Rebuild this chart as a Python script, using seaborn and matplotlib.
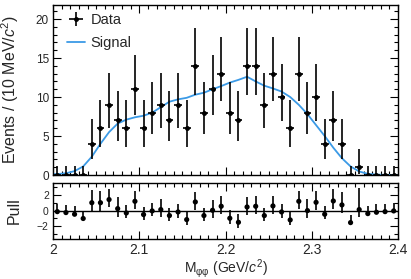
import math
import numpy as np
import pandas as pd
import matplotlib
matplotlib.use("Agg")
import matplotlib.pyplot as plt
from matplotlib.ticker import MultipleLocator
from matplotlib.lines import Line2D
import seaborn as sns

# bin centres (10 MeV bins from 2.0 to 2.4 GeV)
bin_centers = [round(2.005 + 0.01 * i, 3) for i in range(40)]

# observed counts per bin
counts = [0, 0, 0, 0, 4, 6, 9, 7, 6, 11,
          6, 8, 9, 7, 9, 6, 14, 8, 11, 13,
          8, 7, 14, 14, 9, 13, 10, 6, 13, 8,
          10, 4, 7, 4, 0, 1, 0, 0, 0, 0]

# signal shape
signal_x = [2.000, 2.005, 2.015, 2.025, 2.035, 2.045, 2.055, 2.065, 2.075, 2.085,
            2.095, 2.105, 2.115, 2.125, 2.135, 2.145, 2.155, 2.165, 2.175, 2.185,
            2.195, 2.205, 2.215, 2.225, 2.235, 2.245, 2.255, 2.265, 2.275, 2.285,
            2.295, 2.305, 2.315, 2.325, 2.335, 2.345, 2.355, 2.365, 2.375, 2.385,
            2.395, 2.400]
signal_y = [0.10, 0.12, 0.22, 0.50, 1.10, 2.35, 4.00, 5.50, 6.60, 7.10,
            7.40, 7.60, 8.00, 8.70, 9.40, 9.70, 9.90, 10.30, 10.55, 11.00,
            11.40, 11.85, 12.20, 12.60, 12.00, 11.45, 11.10, 10.70, 10.00, 9.00,
            7.80, 6.40, 5.00, 3.50, 2.15, 1.10, 0.45, 0.15, 0.05, 0.02,
            0.01, 0.01]

# pulls per bin
pulls = [-0.13, -0.25, -0.46, -1.00, 1.00, 1.00, 1.40, 0.25, -0.30, 1.18,
         -0.50, -0.04, 0.13, -0.63, -0.17, -1.14, 1.10, -0.63, 0.04, 0.55,
         -0.97, -1.48, 0.46, 0.55, -0.63, 0.59, -0.17, -1.18, 1.18, 0.00,
         1.05, -0.46, 1.22, 0.72, -1.52, 0.13, -0.38, -0.21, -0.13, -0.04]


def poisson_cdf(k, mu):
    return sum(math.exp(-mu) * mu ** i / math.factorial(i) for i in range(k + 1))


def solve_mu(k, target):
    # poisson_cdf is decreasing in mu -> bisection
    lo, hi = 0.0, 100.0
    for _ in range(80):
        mid = 0.5 * (lo + hi)
        if poisson_cdf(k, mid) > target:
            lo = mid
        else:
            hi = mid
    return 0.5 * (lo + hi)


def poisson_interval(n, cl=0.682689):
    # central interval, one-sided for n = 0 (as RooHist does)
    a = 0.5 * (1 - cl)
    if n == 0:
        return 0.0, -math.log(1 - cl)
    low = solve_mu(n - 1, 1 - a)
    up = solve_mu(n, a)
    return n - low, up - n


err_lo, err_hi = zip(*[poisson_interval(n) for n in counts])
err_lo, err_hi = np.array(err_lo), np.array(err_hi)

# pull error bars: the side facing the curve is 1 by construction
pull_up, pull_dn = [], []
for p, lo, hi in zip(pulls, err_lo, err_hi):
    if p >= 0:
        pull_dn.append(1.0)
        pull_up.append(hi / lo if lo > 0 else 1.0)
    else:
        pull_up.append(1.0)
        pull_dn.append(lo / hi)

df = pd.DataFrame({"x": bin_centers, "n": counts, "pull": pulls})
sig = pd.DataFrame({"x": signal_x, "y": signal_y})

sns.set_theme(style="ticks")
plt.rcParams["font.family"] = ["Liberation Sans", "DejaVu Sans"]
plt.rcParams["mathtext.fontset"] = "custom"
plt.rcParams["mathtext.rm"] = "Liberation Sans"
plt.rcParams["mathtext.it"] = "Liberation Sans:italic"
plt.rcParams["axes.linewidth"] = 1.0

blue = "#3b9ae6"

fig = plt.figure(figsize=(4.11, 2.79), dpi=100)
ax = fig.add_axes([53 / 411, 1 - 175 / 279, 345 / 411, 170 / 279])
axp = fig.add_axes([53 / 411, 1 - 239 / 279, 345 / 411, 56 / 279], sharex=ax)

# main panel
ax.errorbar(df["x"], df["n"], yerr=[err_lo, err_hi], xerr=0.0045,
            fmt="o", ms=2.5, color="black", ecolor="black", elinewidth=1.2,
            capsize=0, zorder=3)
sns.lineplot(data=sig, x="x", y="y", ax=ax, color=blue, lw=1.3, zorder=2)

ax.set_xlim(2.0, 2.4)
ax.set_ylim(0, 21.8)
ax.yaxis.set_major_locator(MultipleLocator(5))
ax.yaxis.set_minor_locator(MultipleLocator(1))
ax.set_ylabel(r"Events / (10 MeV/$c^2$)", fontsize=11.5)
ax.yaxis.set_label_coords(-0.092, 0.5)
ax.set_xlabel("")
ax.tick_params(axis="x", labelbottom=False)
ax.tick_params(axis="y", labelsize=8.5, pad=3)

data_handle = ax.errorbar([], [], yerr=[[1], [1]], xerr=0.5, fmt="o", ms=2.5,
                          color="black", elinewidth=1.2)
sig_handle = Line2D([], [], color=blue, lw=1.3)
ax.legend([data_handle, sig_handle], ["Data", "Signal"], loc="upper left",
          bbox_to_anchor=(0.028, 0.978), frameon=False, fontsize=10.5,
          handlelength=1.25, handletextpad=0.35, labelspacing=0.62,
          borderaxespad=0, borderpad=0.3)

# pull panel
axp.axhline(0, color="black", lw=1.0, zorder=1)
axp.errorbar(df["x"], df["pull"], yerr=[pull_dn, pull_up], fmt="none",
             ecolor="black", elinewidth=1.2, capsize=0, zorder=2)
sns.scatterplot(data=df, x="x", y="pull", ax=axp, color="black", s=14,
                edgecolor="none", zorder=3)
axp.set_ylim(-3.6, 3.5)
axp.yaxis.set_major_locator(MultipleLocator(2))
axp.yaxis.set_minor_locator(MultipleLocator(1))
axp.xaxis.set_major_locator(MultipleLocator(0.1))
axp.xaxis.set_minor_locator(MultipleLocator(0.01))
axp.set_xticks([2.0, 2.1, 2.2, 2.3, 2.4])
axp.set_xticklabels(["2", "2.1", "2.2", "2.3", "2.4"])
axp.set_ylabel("Pull", fontsize=11.5)
axp.yaxis.set_label_coords(-0.092, 0.5)
axp.set_xlabel(r"M$_{\mathrm{φφ}}$ (GeV/$c^2$)", fontsize=10, labelpad=0)
axp.tick_params(axis="x", labelsize=10, pad=3)
axp.tick_params(axis="y", labelsize=7.5, pad=3)

# ROOT-like ticks: inside, on all four sides
for a in (ax, axp):
    a.tick_params(which="both", direction="in", top=True, right=True,
                  color="black", width=0.8)
    a.tick_params(which="major", length=6)
    a.tick_params(which="minor", length=3)
    for s in a.spines.values():
        s.set_color("black")

fig.savefig("out.png", dpi=100)
